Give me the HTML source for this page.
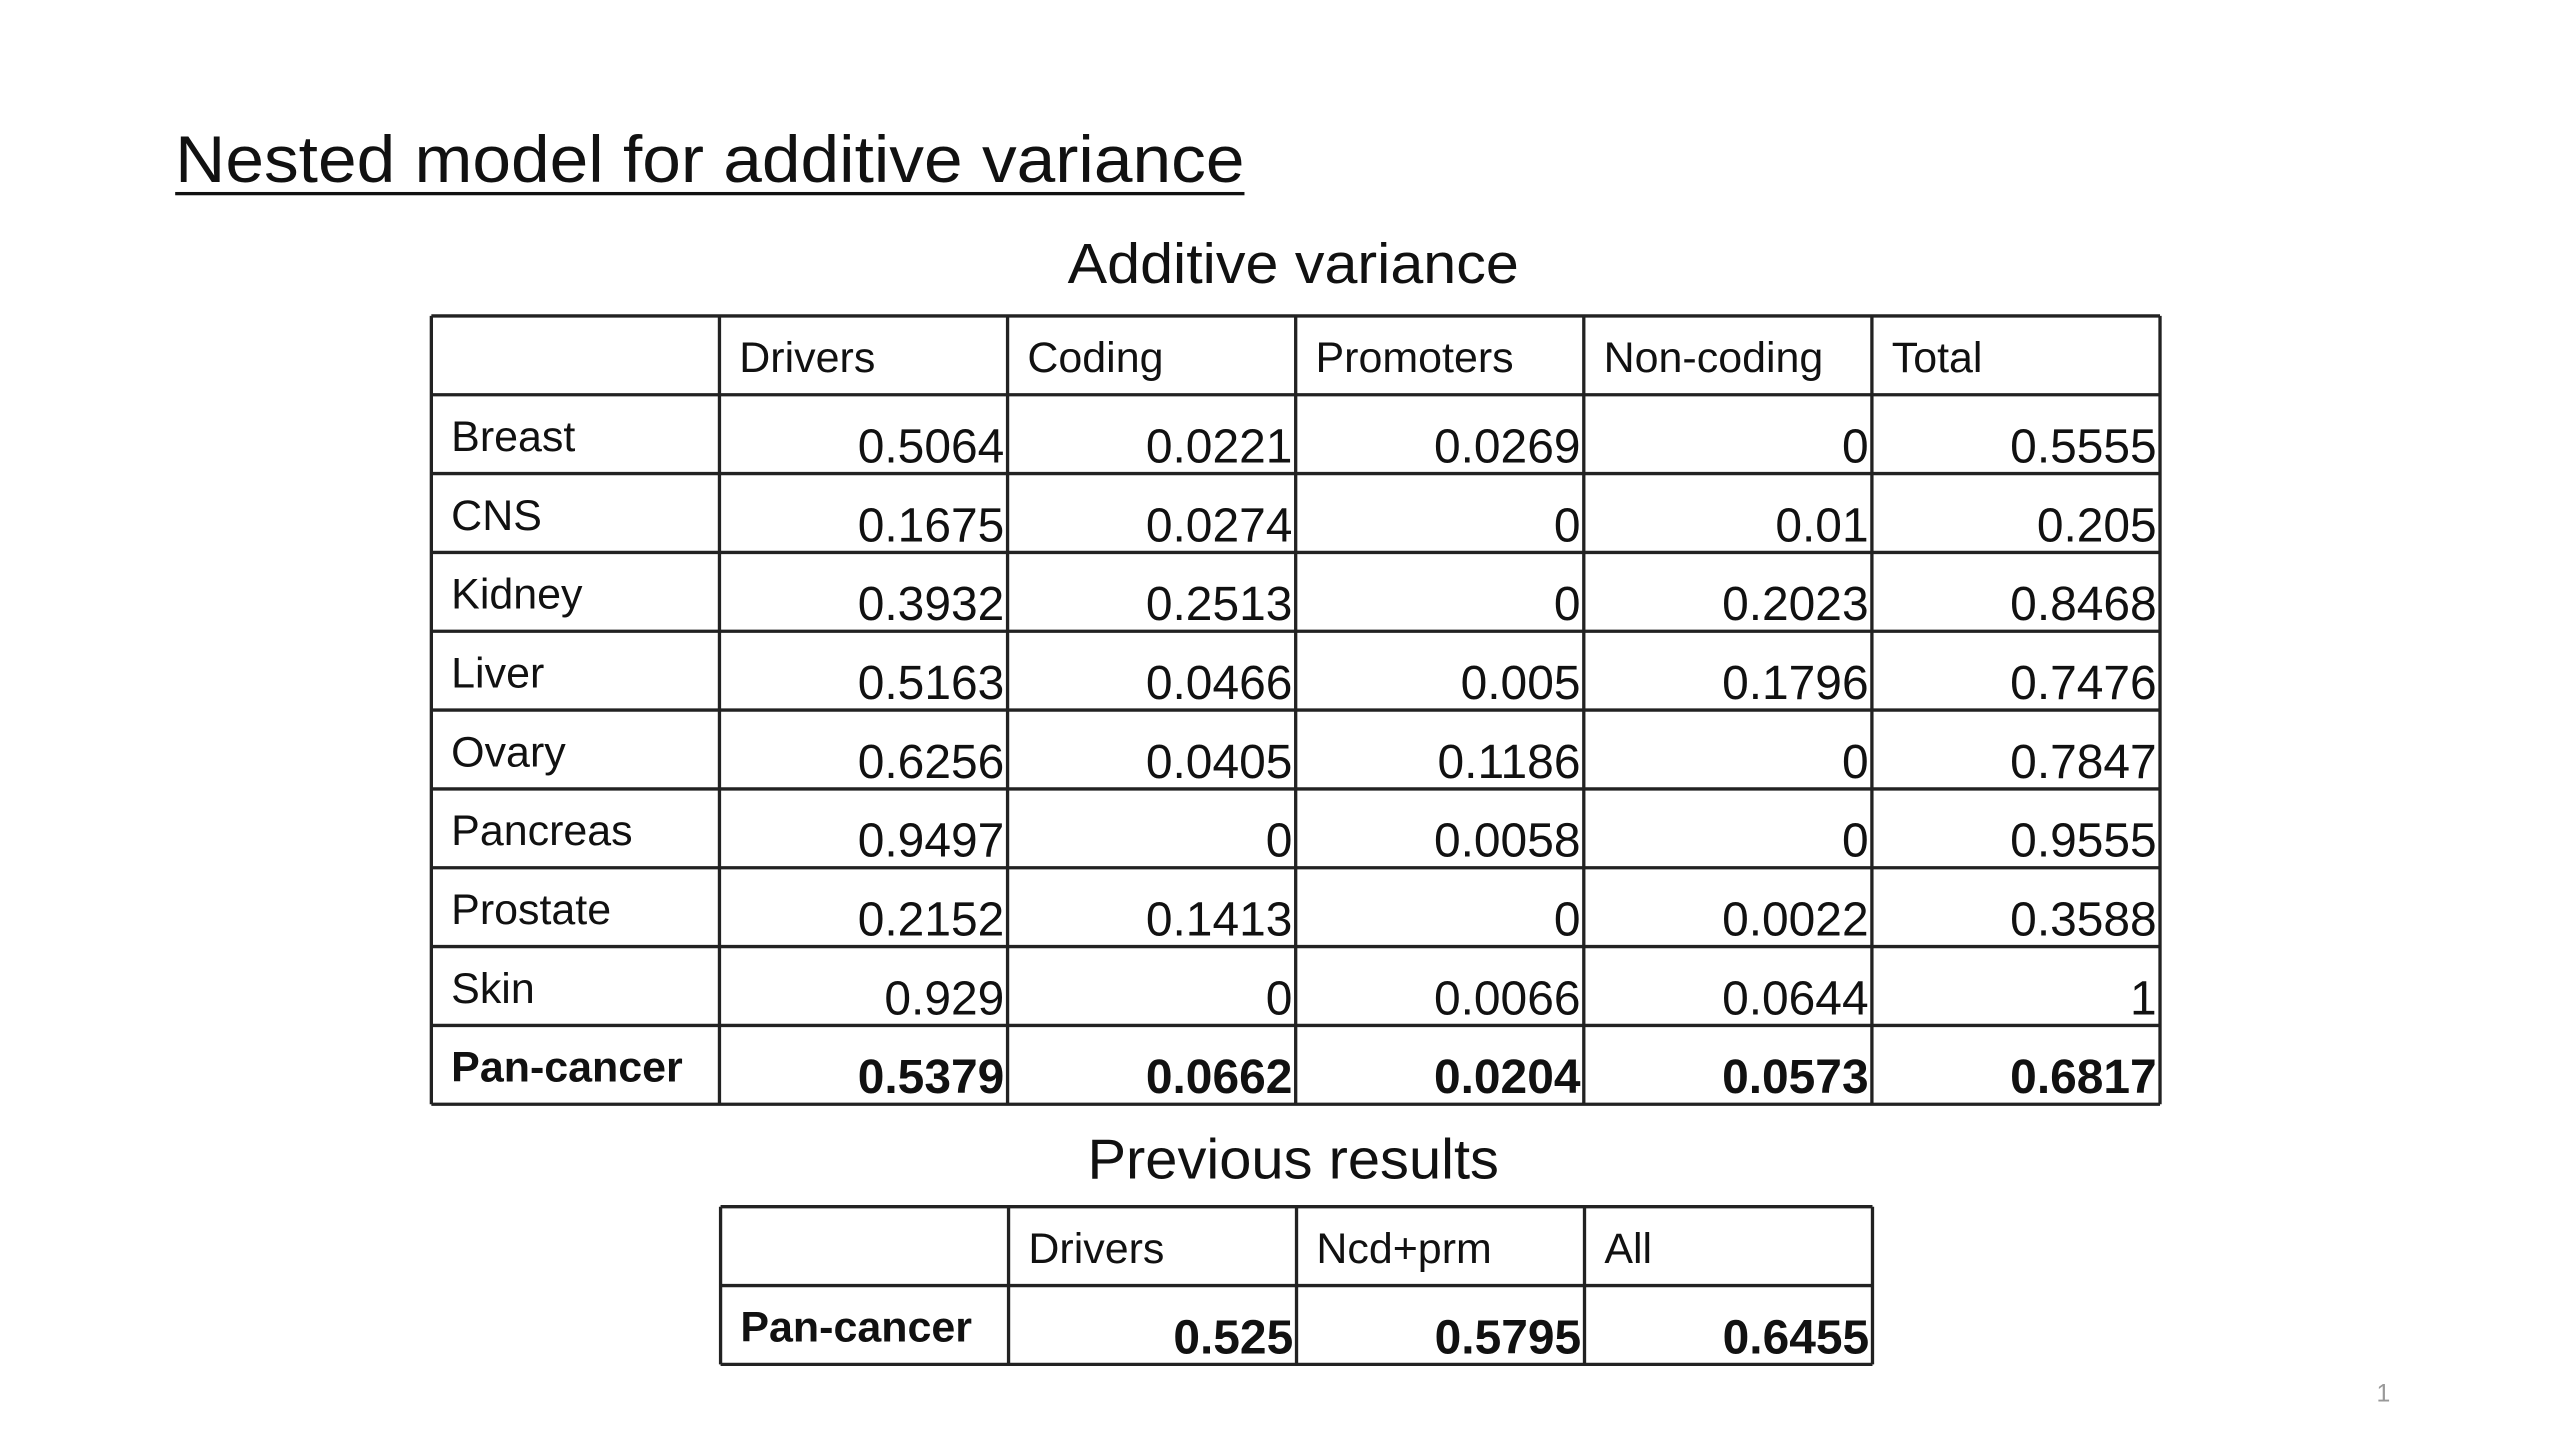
<!DOCTYPE html>
<html><head><meta charset="utf-8">
<style>
html,body{margin:0;padding:0;background:#fff;width:2560px;height:1440px;overflow:hidden}
svg{display:block}
text{font-family:"Liberation Sans",Arial,sans-serif;fill:#111}
</style></head>
<body>
<svg id="slide" width="2560" height="1440" viewBox="0 0 1549 871" xmlns="http://www.w3.org/2000/svg">
<text x="106" y="110" font-size="40" textLength="647" lengthAdjust="spacingAndGlyphs">Nested model for additive variance</text>
<rect x="106" y="116" width="647" height="2" fill="#111"/>
<text x="646" y="171" font-size="34" textLength="273" lengthAdjust="spacingAndGlyphs">Additive variance</text>
<g id="t1"></g>
<text x="658" y="713" font-size="34" textLength="249" lengthAdjust="spacingAndGlyphs">Previous results</text>
<g id="t2"></g>
<text x="1438" y="848" font-size="15" fill="#999" style="fill:#999">1</text>
</svg>
<script>
const headers1 = ["", "Drivers", "Coding", "Promoters", "Non-coding", "Total"];
const rowLabels1 = ["Breast","CNS","Kidney","Liver","Ovary","Pancreas","Prostate","Skin","Pan-cancer"];
const values1 = [
 ["0.5064","0.0221","0.0269","0","0.5555"],
 ["0.1675","0.0274","0","0.01","0.205"],
 ["0.3932","0.2513","0","0.2023","0.8468"],
 ["0.5163","0.0466","0.005","0.1796","0.7476"],
 ["0.6256","0.0405","0.1186","0","0.7847"],
 ["0.9497","0","0.0058","0","0.9555"],
 ["0.2152","0.1413","0","0.0022","0.3588"],
 ["0.929","0","0.0066","0.0644","1"],
 ["0.5379","0.0662","0.0204","0.0573","0.6817"]
];
const headers2 = ["", "Drivers", "Ncd+prm", "All"];
const rowLabels2 = ["Pan-cancer"];
const values2 = [["0.525","0.5795","0.6455"]];

const NS = "http://www.w3.org/2000/svg";
function mk(parent, tag, attrs, txt){
  const e = document.createElementNS(NS, tag);
  for (const k in attrs) e.setAttribute(k, attrs[k]);
  if (txt !== undefined) e.textContent = txt;
  parent.appendChild(e);
  return e;
}
function buildTable(g, x0, y0, colW, rowH, headers, labels, values, boldLast){
  const nCols = headers.length, nRows = labels.length + 1;
  const W = colW * nCols, H = rowH * nRows;
  // headers
  headers.forEach((h, c) => {
    if (!h) return;
    const t = mk(g, "text", {x: x0 + c*colW + 12, y: y0 + 34, "font-size": 26});
    t.textContent = h;
    
    
  });
  labels.forEach((lab, r) => {
    const bold = boldLast && r === labels.length - 1;
    const yTop = y0 + (r+1)*rowH;
    const t = mk(g, "text", {x: x0 + 12, y: yTop + 34, "font-size": 26, "font-weight": bold ? "bold" : "normal"});
    t.textContent = lab;
    
    
    values[r].forEach((v, c) => {
      const cell = mk(g, "text", {x: x0 + (c+2)*colW - 2, y: yTop + 41, "font-size": 29, "text-anchor": "end", "font-weight": bold ? "bold" : "normal"});
      cell.textContent = v;
      
      
    });
  });
  for (let r = 0; r <= nRows; r++) {
    const l = mk(g, "line", {x1: x0, x2: x0 + W, y1: y0 + r*rowH, y2: y0 + r*rowH, stroke: "#222", "stroke-width": 2});
    
    
  }
  for (let c = 0; c <= nCols; c++) {
    const l = mk(g, "line", {x1: x0 + c*colW, x2: x0 + c*colW, y1: y0, y2: y0 + H, stroke: "#222", "stroke-width": 2});
    
    
  }
}
buildTable(document.getElementById("t1"), 261, 191, 174.33, 47.7, headers1, rowLabels1, values1, true);
buildTable(document.getElementById("t2"), 436, 730, 174.25, 47.7, headers2, rowLabels2, values2, true);
</script>
</body></html>
